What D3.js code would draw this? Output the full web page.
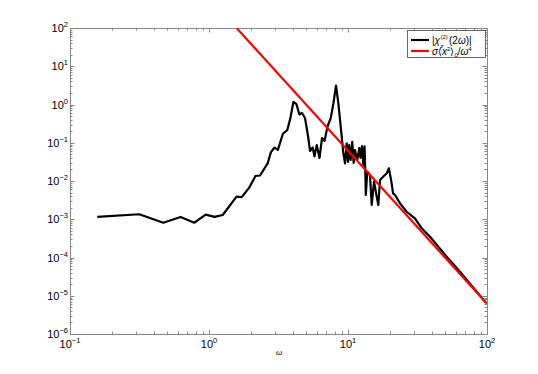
<!DOCTYPE html>
<html>
<head>
<meta charset="utf-8">
<script src="https://cdn.jsdelivr.net/npm/d3@7"></script>
<style>
	body { margin: 0; background: #fff; }
	svg text { font-family: "Liberation Sans", Arial, sans-serif; }
</style>
</head>
<body>
<div id="chart"></div>
<script>
// chi spectrum (black curve)
var omega = [0.157, 0.315, 0.469, 0.625, 0.783, 0.946, 1.10, 1.255, 1.578, 1.72,
	1.94, 2.16, 2.33, 2.64, 2.79, 2.96, 3.13, 3.40, 3.66, 3.85,
	4.05, 4.25, 4.47, 4.67, 4.91, 5.18, 5.33, 5.57, 5.74, 5.96,
	6.24, 6.50, 6.78, 7.12, 7.51, 7.84, 8.20, 8.52, 8.87, 9.26,
	9.52, 9.79, 10.0, 10.2, 10.45, 10.73, 10.98, 11.22, 11.66, 12.06,
	12.30, 12.61, 12.90, 13.15, 13.31, 13.43, 13.76, 14.39, 14.81, 15.39,
	16.09, 16.52, 17.0, 17.9, 19.0, 19.7, 20.6, 21.1, 21.8, 23.7,
	26.4, 30.3, 33.9, 38.9, 51.3, 63.9, 97.5];
var chi = [1.15e-3, 1.35e-3, 8.1e-4, 1.15e-3, 8.1e-4, 1.32e-3, 1.15e-3, 1.29e-3, 3.9e-3, 3.8e-3,
	6.6e-3, 1.35e-2, 1.39e-2, 2.9e-2, 5.7e-2, 7.5e-2, 6.5e-2, 0.17, 0.215, 0.44,
	1.18, 1.03, 0.55, 0.60, 0.435, 0.137, 0.061, 0.075, 0.044, 0.087,
	0.040, 0.133, 0.111, 0.266, 0.44, 1.03, 3.14, 1.09, 0.258, 0.053,
	0.029, 0.097, 0.0314, 0.087, 0.0354, 0.105, 0.0296, 0.0646, 0.0354, 0.073,
	0.040, 0.082, 0.0262, 0.080, 0.0194, 0.0043, 0.0175, 0.0144, 0.00236, 0.0096,
	0.0039, 0.00236, 0.0106, 0.0129, 0.0159, 0.0215, 0.0087, 0.00476, 0.0043, 0.00261,
	0.00157, 0.00106, 5.8e-4, 3.5e-4, 1.05e-4, 4.26e-5, 6.8e-6];

// sigma<x^2>_0 / w^4 asymptote (red line, straight in log-log)
var fitOmega = [1.58, 100];
var fitValue = [99.5, 6.2e-6];

var xTickExp = [-1, 0, 1, 2];
var yTickExp = [-6, -5, -4, -3, -2, -1, 0, 1, 2];

var W = 538, H = 374;
var m = {left: 70, right: 487, top: 28, bottom: 334};

var svg = d3.select('#chart').append('svg').attr('width', W).attr('height', H);

var x = d3.scaleLog().domain([0.1, 100]).range([m.left, m.right]);
var y = d3.scaleLog().domain([1e-6, 100]).range([m.bottom, m.top]);

svg.append('clipPath').attr('id', 'clip').append('rect')
	.attr('x', m.left).attr('y', m.top)
	.attr('width', m.right - m.left).attr('height', m.bottom - m.top);

// box + ticks
var axisCol = '#888';
var g = svg.append('g').attr('stroke', axisCol).attr('fill', 'none');
g.append('rect').attr('x', m.left).attr('y', m.top)
	.attr('width', m.right - m.left).attr('height', m.bottom - m.top)
	.attr('stroke-width', 1).attr('shape-rendering', 'crispEdges');

function logTicks(lo, hi) {
	var out = [];
	for (var e = lo; e < hi; e++) {
		for (var k = 1; k < 10; k++) out.push({v: k * Math.pow(10, e), major: k == 1});
	}
	out.push({v: Math.pow(10, hi), major: true});
	return out;
}

logTicks(-1, 2).forEach(function(t) {
	var px = Math.round(x(t.v)) + 0.5, len = t.major ? 4.5 : 2.5;
	g.append('line').attr('x1', px).attr('x2', px).attr('y1', m.bottom).attr('y2', m.bottom - len);
	g.append('line').attr('x1', px).attr('x2', px).attr('y1', m.top).attr('y2', m.top + len);
});
logTicks(-6, 2).forEach(function(t) {
	var py = Math.round(y(t.v)) + 0.5, len = t.major ? 4.5 : 2.5;
	g.append('line').attr('y1', py).attr('y2', py).attr('x1', m.left).attr('x2', m.left + len);
	g.append('line').attr('y1', py).attr('y2', py).attr('x1', m.right).attr('x2', m.right - len);
});

// tick labels
xTickExp.forEach(function(e) {
	var t = svg.append('text').attr('x', x(Math.pow(10, e))).attr('y', 348)
		.attr('text-anchor', 'middle').attr('font-size', 11).attr('fill', '#000');
	t.append('tspan').text('10');
	t.append('tspan').attr('dy', -5).attr('font-size', 7.5).text(e < 0 ? '\u2212' + (-e) : e);
});
yTickExp.forEach(function(e) {
	var t = svg.append('text').attr('x', 68).attr('y', y(Math.pow(10, e)) + 4)
		.attr('text-anchor', 'end').attr('font-size', 11).attr('fill', '#000');
	t.append('tspan').text('10');
	t.append('tspan').attr('dy', -5).attr('font-size', 7.5).text(e < 0 ? '\u2212' + (-e) : e);
});

svg.append('text').attr('x', 279).attr('y', 355).attr('text-anchor', 'middle')
	.attr('font-family', 'DejaVu Serif').attr('font-style', 'italic').attr('font-size', 8)
	.attr('fill', '#000').text('\u03c9');

// curves
var line = d3.line().x(function(d) { return x(d[0]); }).y(function(d) { return y(d[1]); });
var plot = svg.append('g').attr('clip-path', 'url(#clip)');

plot.append('path').datum(d3.zip(omega, chi)).attr('d', line)
	.attr('fill', 'none').attr('stroke', '#000').attr('stroke-width', 2.2)
	.attr('stroke-linejoin', 'round');
plot.append('path').datum(d3.zip(fitOmega, fitValue)).attr('d', line)
	.attr('fill', 'none').attr('stroke', '#f00').attr('stroke-width', 2.2);

// legend
var lg = svg.append('g');
lg.append('rect').attr('x', 407.5).attr('y', 30.5).attr('width', 78).attr('height', 27)
	.attr('fill', '#fff').attr('stroke', '#444').attr('stroke-width', 0.8);
lg.append('line').attr('x1', 411).attr('x2', 429).attr('y1', 40).attr('y2', 40)
	.attr('stroke', '#000').attr('stroke-width', 2.2);
lg.append('line').attr('x1', 411).attr('x2', 429).attr('y1', 51).attr('y2', 51)
	.attr('stroke', '#f00').attr('stroke-width', 2.2);

var serif = 'DejaVu Serif';
// |chi_z^(2)(2w)| -- sub/superscript split into separate texts so they stack
lg.append('text').attr('x', 432).attr('y', 44).attr('font-size', 10)
	.attr('font-family', serif).attr('fill', '#000')
	.html('|<tspan font-style="italic">\u03c7</tspan>');
lg.append('text').attr('x', 440.5).attr('y', 38.5).attr('font-size', 6)
	.attr('font-family', serif).attr('fill', '#000').text('(2)');
lg.append('text').attr('x', 440.5).attr('y', 47.5).attr('font-size', 6).attr('font-style', 'italic')
	.attr('font-family', serif).attr('fill', '#000').text('z');
lg.append('text').attr('x', 449).attr('y', 44).attr('font-size', 10)
	.attr('font-family', serif).attr('fill', '#000')
	.html('(2<tspan font-style="italic">\u03c9</tspan>)|');

var t2 = lg.append('text').attr('x', 432).attr('y', 55).attr('font-size', 10)
	.attr('font-family', serif).attr('fill', '#000');
t2.append('tspan').attr('font-style', 'italic').text('\u03c3');
t2.append('tspan').text('\u27e8');
t2.append('tspan').attr('font-style', 'italic').text('x');
t2.append('tspan').attr('font-size', 6).attr('dy', -4).text('2');
t2.append('tspan').attr('dy', 4).text('\u27e9');
t2.append('tspan').attr('font-size', 6).attr('dy', 2).text('0');
t2.append('tspan').attr('dy', -2).text('/');
t2.append('tspan').attr('font-style', 'italic').text('\u03c9');
t2.append('tspan').attr('font-size', 6).attr('dy', -4).text('4');
</script>
</body>
</html>
